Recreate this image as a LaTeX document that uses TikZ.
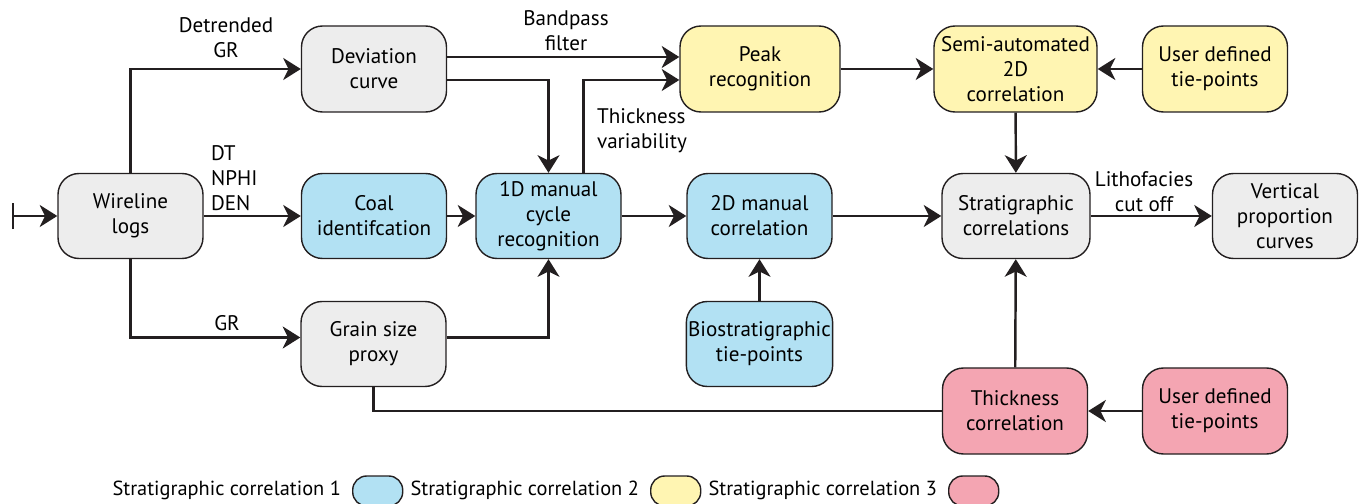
\documentclass[tikz,border=0pt]{standalone}
\usepackage{fontspec}
\setmainfont{PT Sans}
\usetikzlibrary{arrows.meta}

\definecolor{linegray}{RGB}{35,31,32}
\definecolor{boxgray}{RGB}{237,237,237}
\definecolor{corrblue}{RGB}{178,225,243}
\definecolor{corryellow}{RGB}{255,245,178}
\definecolor{corrpink}{RGB}{244,165,178}

\begin{document}
\begin{tikzpicture}[font=\fontsize{12}{14.2}\selectfont,
    >={Stealth[length=10pt,width=12.5pt,inset=3pt]},
    box/.style={draw=linegray, line width=0.8pt, rounded corners=0.42cm, align=center,
                minimum width=2.9cm, minimum height=1.7cm, inner sep=1pt},
    flow/.style={->, line width=1.4pt, linegray},
    link/.style={line width=1.4pt, linegray},
    lbl/.style={align=center, inner sep=1pt},
    key/.style={draw=linegray, line width=0.8pt, rounded corners=0.28cm,
                minimum width=1cm, minimum height=0.6cm}]

    \useasboundingbox (0,0) rectangle (27.24,-10.08);

    % Input
    \coordinate (start) at (0.24,-4.32);
    \node[box, fill=boxgray] (wire) at (2.61,-4.32) {Wireline\\logs};

    % Log processing
    \node[box, fill=boxgray, minimum height=1.72cm] (dev) at (7.48,-1.38) {Deviation\\curve};
    \node[box, fill=corrblue] (coal) at (7.48,-4.32) {Coal\\identifcation};
    \node[box, fill=boxgray] (grain) at (7.47,-6.88) {Grain size\\proxy};

    % Stratigraphic correlation 1
    \node[box, fill=corrblue] (cycle) at (10.97,-4.32) {1D manual\\cycle\\recognition};
    \node[box, fill=corrblue] (man2d) at (15.19,-4.32) {2D manual\\correlation};
    \node[box, fill=corrblue] (bio) at (15.19,-6.88) {Biostratigraphic\\tie-points};

    % Stratigraphic correlation 2
    \node[box, fill=corryellow, minimum width=3.2cm, minimum height=1.72cm] (peak) at (15.2,-1.38) {Peak\\recognition};
    \node[box, fill=corryellow, minimum width=3.26cm, minimum height=1.72cm] (semi) at (20.31,-1.38) {Semi-automated\\2D\\correlation};
    \node[box, fill=corryellow, minimum height=1.72cm] (usera) at (24.3,-1.38) {User defined\\tie-points};

    % Stratigraphic correlation 3
    \node[box, fill=corrpink, minimum height=1.72cm] (thick) at (20.3,-8.22) {Thickness\\correlation};
    \node[box, fill=corrpink, minimum height=1.72cm] (userb) at (24.3,-8.22) {User defined\\tie-points};

    % Output
    \node[box, fill=boxgray, minimum width=2.96cm] (strat) at (20.32,-4.32) {Stratigraphic\\correlations};
    \node[box, fill=boxgray] (vert) at (25.7,-4.32) {Vertical\\proportion\\curves};

    % Arrows from the logs
    \draw[link, {Bar[width=15pt]}->] (start) -- (wire);
    \draw[flow] (wire.north) |- (dev.west);
    \draw[flow] (wire) -- (coal);
    \draw[flow] (wire.south) |- ([yshift=0.13cm]grain.west);
    \node[lbl] (detr) at (4.52,-0.76) {Detrended\\GR};
    \node[lbl, align=left, anchor=west] (logs) at (4.18,-3.56) {DT\\NPHI\\DEN};
    \node[lbl] (gr) at (4.54,-6.46) {GR};

    % Upper branch
    \draw[flow] ([yshift=0.24cm]dev.east) -- ([yshift=0.24cm]peak.west);
    \draw[flow] ([yshift=-0.22cm]dev.east) -| (cycle.north);
    \draw[flow] ([xshift=0.7cm]cycle.north) |- ([yshift=-0.22cm]peak.west);
    \node[lbl] (band) at (11.32,-0.62) {Bandpass\\filter};
    \node[lbl, align=left, anchor=west] (thvar) at (11.9,-2.62) {Thickness\\variability};
    \draw[flow] (peak) -- (semi);
    \draw[flow] (usera) -- (semi);
    \draw[flow] (semi) -- (strat);

    % Middle row
    \draw[flow] (coal) -- (cycle);
    \draw[flow] ([yshift=0.13cm]grain.east) -| (cycle.south);
    \draw[flow] (cycle) -- (man2d);
    \draw[flow] (bio) -- (man2d);
    \draw[flow] (man2d) -- (strat);
    \draw[flow] (strat) -- (vert);
    \node[lbl] (litho) at (22.88,-3.84) {Lithofacies\\cut off};

    % Lower branch
    \draw[link] (grain.south) |- (thick.west);
    \draw[flow] (thick) -- (strat);
    \draw[flow] (userb) -- (thick);

    % Legend
    \begin{scope}[font=\fontsize{11.6}{14}\selectfont]
    \node[lbl, anchor=east] (leg1) at (6.86,-9.8) {Stratigraphic correlation 1};
    \node[key, fill=corrblue, anchor=west] (key1) at (7.04,-9.82) {};
    \node[lbl, anchor=east] (leg2) at (12.82,-9.8) {Stratigraphic correlation 2};
    \node[key, fill=corryellow, anchor=west] (key2) at (13.0,-9.82) {};
    \node[lbl, anchor=east] (leg3) at (18.78,-9.8) {Stratigraphic correlation 3};
    \node[key, fill=corrpink, anchor=west] (key3) at (18.96,-9.82) {};
    \end{scope}
\end{tikzpicture}
\end{document}
